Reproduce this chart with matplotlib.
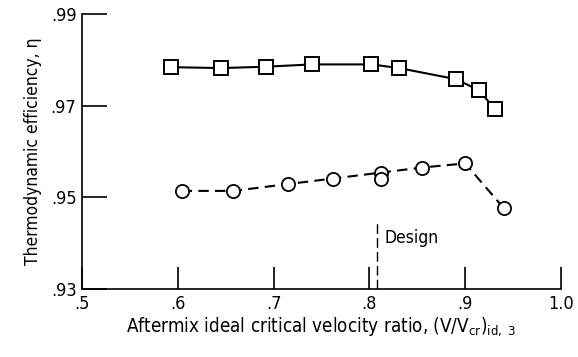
import matplotlib
matplotlib.use("Agg")
import matplotlib.pyplot as plt

plt.rcParams['font.family'] = ['DejaVu Sans']
plt.rcParams['font.stretch'] = 'condensed'

# Square series (solid curve)
sq_x = [0.593, 0.645, 0.692, 0.740, 0.802, 0.831, 0.890, 0.914, 0.931]
sq_y = [0.9784, 0.9782, 0.9785, 0.9790, 0.9790, 0.9782, 0.9758, 0.9734, 0.9693]

# Circle series (dashed curve)
ci_x = [0.604, 0.658, 0.715, 0.762, 0.812, 0.812, 0.855, 0.900, 0.940]
ci_y = [0.9514, 0.9514, 0.9529, 0.9541, 0.9554, 0.9539, 0.9565, 0.9574, 0.9477]

design_x = 0.808

x_ticks = [0.5, 0.6, 0.7, 0.8, 0.9, 1.0]
x_ticklabels = ['.5', '.6', '.7', '.8', '.9', '1.0']
y_ticks = [0.93, 0.95, 0.97, 0.99]
y_ticklabels = ['.93', '.95', '.97', '.99']

fig = plt.figure(figsize=(5.78, 3.57), dpi=100)
ax = fig.add_axes([0.1419, 0.1905, 0.8287, 0.7703])

ax.plot(sq_x, sq_y, color='black', lw=1.5, zorder=2)
line_cx = [x for i, x in enumerate(ci_x) if i != 5]
line_cy = [y for i, y in enumerate(ci_y) if i != 5]
ax.plot(line_cx, line_cy, color='black', lw=1.5, ls=(0, (5, 3)), zorder=2)

ax.plot(sq_x, sq_y, ls='none', marker='s', ms=10, mfc='white', mec='black', mew=1.4, zorder=3)
ax.plot(ci_x, ci_y, ls='none', marker='o', ms=9.5, mfc='white', mec='black', mew=1.3, zorder=3)

ax.plot([design_x, design_x], [0.93, 0.9445], color='black', lw=1.0, ls=(0, (7, 3)), zorder=2)
ax.text(design_x + 0.008, 0.9412, 'Design', fontsize=12.5, va='center', ha='left')

ax.set_xlim(0.5, 1.0)
ax.set_ylim(0.93, 0.99)
ax.set_xticks(x_ticks)
ax.set_xticklabels(x_ticklabels)
ax.set_yticks(y_ticks)
ax.set_yticklabels(y_ticklabels)
ax.tick_params(axis='x', direction='in', length=16, width=1.2, labelsize=13, pad=4)
ax.tick_params(axis='y', direction='in', length=18, width=1.2, labelsize=13, pad=4)
for s in ['top', 'right']:
    ax.spines[s].set_visible(False)
for s in ['left', 'bottom']:
    ax.spines[s].set_linewidth(1.2)

ax.set_ylabel('Thermodynamic efficiency, η', fontsize=12.5, labelpad=6)
ax.set_xlabel(r'Aftermix ideal critical velocity ratio, $\left(\mathregular{V/V_{cr}}\right)_{\mathregular{id,\ 3}}$',
              fontsize=13.5, labelpad=2)

fig.savefig('out.png', dpi=100)
